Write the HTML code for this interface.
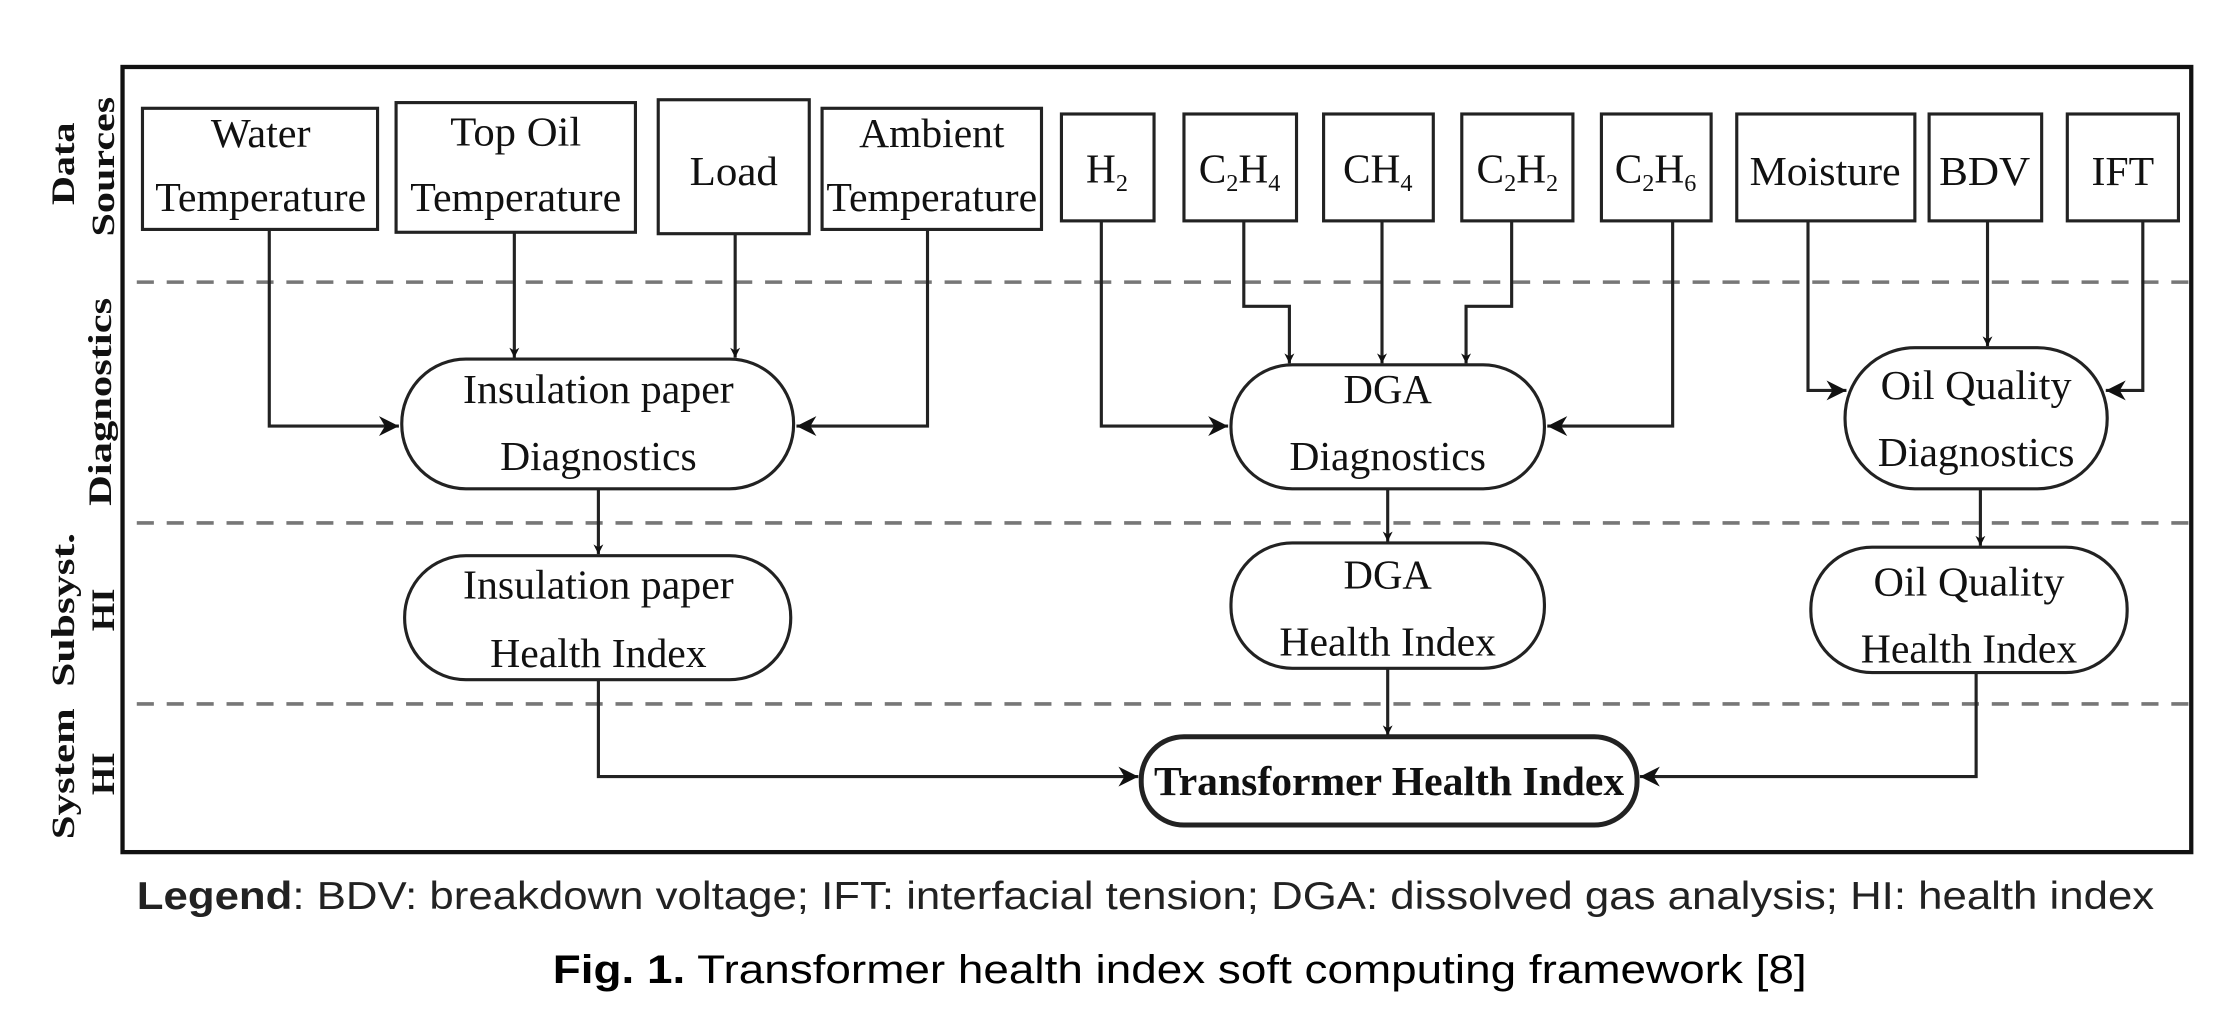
<!DOCTYPE html>
<html><head><meta charset="utf-8"><style>
html,body{margin:0;padding:0;background:#fff;}
svg{display:block;}
.s{font-family:"Liberation Serif",serif;font-size:29px;fill:#111;}
.b{font-family:"Liberation Serif",serif;font-size:23px;font-weight:bold;fill:#111;}
.sub{font-size:17px;}
</style></head><body>
<svg width="2234" height="1016" viewBox="0 0 1568 713" preserveAspectRatio="none" xmlns="http://www.w3.org/2000/svg">
<defs>
<marker id="a" viewBox="0 0 10 10" refX="10" refY="5" markerWidth="7" markerHeight="7" orient="auto" markerUnits="userSpaceOnUse"><path d="M0,0 L10,5 L0,10 L3,5 z" fill="#111"/></marker>
<marker id="A" viewBox="0 0 10 10" refX="10" refY="5" markerWidth="18" markerHeight="14" orient="auto" markerUnits="userSpaceOnUse"><path d="M0,0 L10,5 L0,10 L3,5 z" fill="#111"/></marker>
</defs>
<rect width="1568" height="713" fill="#fff"/>
<rect x="86" y="47" width="1452" height="551" fill="none" stroke="#111" stroke-width="3"/>
<g stroke="#777" stroke-width="2.5" stroke-dasharray="12,9">
<line x1="96" y1="198" x2="1538" y2="198"/>
<line x1="96" y1="367" x2="1538" y2="367"/>
<line x1="96" y1="494" x2="1538" y2="494"/>
</g>
<!-- side labels -->
<g class="b" text-anchor="middle">
<text transform="translate(52,115) rotate(-90)" textLength="58" lengthAdjust="spacingAndGlyphs">Data</text>
<text transform="translate(80,117) rotate(-90)" textLength="98" lengthAdjust="spacingAndGlyphs">Sources</text>
<text transform="translate(78,282) rotate(-90)" textLength="146" lengthAdjust="spacingAndGlyphs">Diagnostics</text>
<text transform="translate(52,428) rotate(-90)" textLength="108" lengthAdjust="spacingAndGlyphs">Subsyst.</text>
<text transform="translate(80,428) rotate(-90)" textLength="30" lengthAdjust="spacingAndGlyphs">HI</text>
<text transform="translate(52,543) rotate(-90)" textLength="92" lengthAdjust="spacingAndGlyphs">System</text>
<text transform="translate(80,543) rotate(-90)" textLength="30" lengthAdjust="spacingAndGlyphs">HI</text>
</g>
<!-- top boxes -->
<g fill="#fff" stroke="#222" stroke-width="2.2">
<rect x="100" y="76" width="165" height="85"/>
<rect x="278" y="72" width="168" height="91"/>
<rect x="462" y="70" width="106" height="94"/>
<rect x="577" y="76" width="154" height="85"/>
<rect x="745" y="80" width="65" height="75"/>
<rect x="831" y="80" width="79" height="75"/>
<rect x="929" y="80" width="77" height="75"/>
<rect x="1026" y="80" width="78" height="75"/>
<rect x="1124" y="80" width="77" height="75"/>
<rect x="1219" y="80" width="125" height="75"/>
<rect x="1354" y="80" width="79" height="75"/>
<rect x="1451" y="80" width="78" height="75"/>
</g>
<g class="s" text-anchor="middle">
<text x="183" y="103" textLength="70" lengthAdjust="spacingAndGlyphs">Water</text>
<text x="183" y="148" textLength="148" lengthAdjust="spacingAndGlyphs">Temperature</text>
<text x="362" y="102" textLength="92" lengthAdjust="spacingAndGlyphs">Top Oil</text>
<text x="362" y="148" textLength="148" lengthAdjust="spacingAndGlyphs">Temperature</text>
<text x="515" y="130" textLength="62" lengthAdjust="spacingAndGlyphs">Load</text>
<text x="654" y="103" textLength="102" lengthAdjust="spacingAndGlyphs">Ambient</text>
<text x="654" y="148" textLength="148" lengthAdjust="spacingAndGlyphs">Temperature</text>
<text x="777" y="128">H<tspan class="sub" dy="6">2</tspan></text>
<text x="870" y="128">C<tspan class="sub" dy="6">2</tspan><tspan dy="-6">H</tspan><tspan class="sub" dy="6">4</tspan></text>
<text x="967" y="128">CH<tspan class="sub" dy="6">4</tspan></text>
<text x="1065" y="128">C<tspan class="sub" dy="6">2</tspan><tspan dy="-6">H</tspan><tspan class="sub" dy="6">2</tspan></text>
<text x="1162" y="128">C<tspan class="sub" dy="6">2</tspan><tspan dy="-6">H</tspan><tspan class="sub" dy="6">6</tspan></text>
<text x="1281" y="130" textLength="106" lengthAdjust="spacingAndGlyphs">Moisture</text>
<text x="1393" y="130" textLength="64" lengthAdjust="spacingAndGlyphs">BDV</text>
<text x="1490" y="130" textLength="44" lengthAdjust="spacingAndGlyphs">IFT</text>
</g>
<!-- pills -->
<g fill="#fff" stroke="#222" stroke-width="2.2">
<rect x="282" y="252" width="275" height="91" rx="45"/>
<rect x="284" y="390" width="271" height="87" rx="43"/>
<rect x="864" y="256" width="220" height="87" rx="43"/>
<rect x="864" y="381" width="220" height="88" rx="43"/>
<rect x="1295" y="244" width="184" height="99" rx="49"/>
<rect x="1271" y="384" width="222" height="88" rx="43"/>
<rect x="801" y="517" width="348" height="62" rx="30" stroke-width="3.5"/>
</g>
<g class="s" text-anchor="middle">
<text x="420" y="283" textLength="190" lengthAdjust="spacingAndGlyphs">Insulation paper</text>
<text x="420" y="330" textLength="138" lengthAdjust="spacingAndGlyphs">Diagnostics</text>
<text x="420" y="420" textLength="190" lengthAdjust="spacingAndGlyphs">Insulation paper</text>
<text x="420" y="468" textLength="152" lengthAdjust="spacingAndGlyphs">Health Index</text>
<text x="974" y="283" textLength="62" lengthAdjust="spacingAndGlyphs">DGA</text>
<text x="974" y="330" textLength="138" lengthAdjust="spacingAndGlyphs">Diagnostics</text>
<text x="974" y="413" textLength="62" lengthAdjust="spacingAndGlyphs">DGA</text>
<text x="974" y="460" textLength="152" lengthAdjust="spacingAndGlyphs">Health Index</text>
<text x="1387" y="280" textLength="134" lengthAdjust="spacingAndGlyphs">Oil Quality</text>
<text x="1387" y="327" textLength="138" lengthAdjust="spacingAndGlyphs">Diagnostics</text>
<text x="1382" y="418" textLength="134" lengthAdjust="spacingAndGlyphs">Oil Quality</text>
<text x="1382" y="465" textLength="152" lengthAdjust="spacingAndGlyphs">Health Index</text>
<text x="975" y="558" font-weight="bold" textLength="330" lengthAdjust="spacingAndGlyphs">Transformer Health Index</text>
</g>
<!-- connectors -->
<g fill="none" stroke="#222" stroke-width="2.2">
<polyline points="189,161 189,299 280,299" marker-end="url(#A)"/>
<polyline points="361,163 361,251" marker-end="url(#a)"/>
<polyline points="516,164 516,251" marker-end="url(#a)"/>
<polyline points="651,161 651,299 559,299" marker-end="url(#A)"/>
<polyline points="420,343 420,389" marker-end="url(#a)"/>
<polyline points="420,477 420,545 799,545" marker-end="url(#A)"/>
<polyline points="773,155 773,299 862,299" marker-end="url(#A)"/>
<polyline points="873,155 873,215 905,215 905,255" marker-end="url(#a)"/>
<polyline points="970,155 970,255" marker-end="url(#a)"/>
<polyline points="1061,155 1061,215 1029,215 1029,255" marker-end="url(#a)"/>
<polyline points="1174,155 1174,299 1086,299" marker-end="url(#A)"/>
<polyline points="974,343 974,380" marker-end="url(#a)"/>
<polyline points="974,469 974,516" marker-end="url(#a)"/>
<polyline points="1269,155 1269,274 1296,274" marker-end="url(#A)"/>
<polyline points="1395,155 1395,243" marker-end="url(#a)"/>
<polyline points="1504,155 1504,274 1478,274" marker-end="url(#A)"/>
<polyline points="1390,343 1390,383" marker-end="url(#a)"/>
<polyline points="1387,472 1387,545 1151,545" marker-end="url(#A)"/>
</g>
<!-- legend & caption -->
<text x="96" y="638" font-family="'Liberation Sans',sans-serif" font-size="27" fill="#222" textLength="1416" lengthAdjust="spacingAndGlyphs"><tspan font-weight="bold">Legend</tspan>: BDV: breakdown voltage; IFT: interfacial tension; DGA: dissolved gas analysis; HI: health index</text>
<text x="388" y="690" font-family="'Liberation Sans',sans-serif" font-size="28" fill="#000" textLength="880" lengthAdjust="spacingAndGlyphs"><tspan font-weight="bold">Fig. 1.</tspan> Transformer health index soft computing framework [8]</text>
</svg>
</body></html>
